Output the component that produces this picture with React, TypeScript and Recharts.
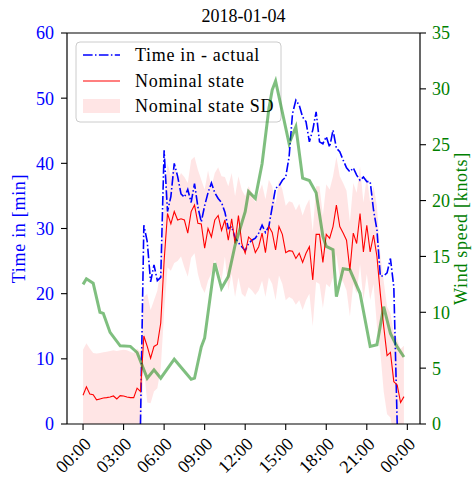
import React from 'react';
import { ComposedChart, Line, Area, XAxis, YAxis, ReferenceLine, Customized } from 'recharts';

// Samples are taken every 15 minutes across the day.
const STEP_HOURS = 0.25;

// Nominal state [min], one value per 15-minute slot (00:00 .. 23:45).
const nominalState = [
  4.4, 5.7, 4.6, 4.5, 3.7, 3.85, 4.0, 4.05, 4.15, 4.3, 3.85, 4.35, 4.3, 4.15, 4.05, 4.05,
  5.5, 5.0, 13.5, 11.9, 10.1, 11.9, 12.2, 15.5, 25.0, 32.3, 30.7, 32.6, 31.3, 31.5, 31.3, 29.3,
  32.6, 33.6, 30.8, 30.7, 27.0, 30.0, 28.7, 31.3, 32.0, 29.7, 31.3, 28.2, 31.5, 27.7, 32.0, 27.7,
  26.2, 28.7, 28.2, 26.3, 27.2, 29.3, 26.3, 30.3, 29.4, 26.7, 30.3, 29.1, 26.3, 26.6, 26.5, 25.4,
  26.2, 24.8, 26.2, 27.2, 22.1, 29.1, 29.1, 24.8, 29.1, 28.5, 30.3, 33.6, 30.3, 29.3, 28.2, 23.6,
  29.3, 27.7, 32.3, 26.4, 30.5, 26.4, 29.0, 25.7, 20.0, 15.0, 10.5, 11.0, 6.5, 6.0, 3.3, 4.2,
];

// Lower / upper edge of the nominal state +/- one standard deviation [min].
const sdLower = [
  -3, -2, -3, -3, -3.5, -3.3, -3.2, -3.1, -3, -2.8, -3.4, -2.8, -3, -3, -3, -3,
  -1, -1.5, 8.5, 3.3, 3.2, 5.0, 5.5, 8.5, 17.0, 24.0, 23.5, 24.7, 25.0, 25.7, 24.0, 22.6,
  25.5, 26.2, 23.0, 21.1, 20.1, 22.0, 23.1, 25.2, 24.0, 22.0, 25.7, 20.5, 23.0, 19.5, 22.5, 20.0,
  19.5, 21.0, 20.5, 19.8, 20.5, 22.0, 19.5, 22.5, 21.5, 19.0, 22.8, 21.5, 19.0, 19.5, 19.2, 18.3,
  19.0, 17.5, 19.0, 20.0, 15.0, 21.8, 21.5, 17.8, 21.5, 21.0, 22.5, 26.0, 22.5, 21.8, 20.5, 16.5,
  21.5, 20.0, 24.5, 19.0, 23.0, 19.0, 21.5, 15.0, 11.0, 5.0, 1.5, 1.0, -2.0, -2.0, -5.0, -3.5,
];
const sdUpper = [
  11.4, 12.4, 11.6, 10.9, 10.8, 10.9, 11.0, 11.1, 11.2, 11.3, 11.2, 11.3, 11.4, 11.3, 11.1, 10.9,
  11.6, 11.0, 19.5, 20.0, 17.5, 19.0, 20.5, 24.0, 34.0, 40.0, 38.0, 39.9, 37.4, 38.5, 37.9, 37.0,
  40.5, 41.0, 39.0, 37.5, 36.0, 38.9, 36.4, 38.5, 39.4, 38.0, 37.9, 36.5, 38.5, 35.0, 38.0, 35.9,
  35.0, 36.5, 35.5, 34.0, 35.5, 36.8, 34.5, 37.5, 36.5, 33.8, 37.5, 36.0, 33.5, 34.2, 34.0, 32.8,
  33.8, 32.0, 33.5, 34.5, 29.5, 36.5, 36.5, 32.0, 36.8, 36.0, 38.0, 41.0, 38.0, 37.0, 35.8, 31.0,
  37.0, 35.5, 39.5, 34.0, 38.0, 34.0, 36.5, 33.5, 26.0, 22.0, 18.0, 17.0, 14.0, 13.0, 11.5, 12.0,
];

// Measured time in [min]; no measurements before 04:15 or after 23:15.
const actualTimeIn: (number | null)[] = [
  null, null, null, null, null, null, null, null, null, null, null, null, null, null, null, null,
  null, 0, 30.5, 28.0, 21.8, 24.4, 22.0, 22.5, 42.0, 32.6, 34.9, 40.0, 38.0, 35.3, 34.8, 36.0,
  34.0, 36.9, 33.3, 31.0, 33.5, 35.5, 37.0, 35.5, 34.6, 34.0, 32.5, 30.0, 30.3, 28.6, 27.8, 27.2,
  26.6, 27.7, 28.2, 28.5, 29.3, 30.5, 29.4, 30.3, 33.3, 36.2, 36.5, 37.4, 37.9, 41.0, 47.6, 49.7,
  48.9, 47.1, 46.4, 43.3, 45.1, 47.9, 43.3, 43.0, 44.1, 42.5, 45.1, 42.3, 41.8, 40.5, 39.3, 38.7,
  39.3, 38.2, 37.4, 37.9, 37.2, 37.2, 32.8, 29.8, 22.7, 22.7, 23.2, 25.4, 21.0, 0, null, null,
];

// Wind speed [knots] as [hour, knots] samples.
const windSamples: [number, number][] = [
  [0, 12.5], [0.25, 13.0], [0.75, 12.6], [1.25, 10.0], [1.5, 9.9], [2.0, 8.2], [2.75, 7.0],
  [3.5, 6.95], [4.0, 6.4], [4.75, 4.1], [5.25, 4.85], [5.75, 4.1], [6.75, 5.8], [8.0, 4.0],
  [8.25, 4.1], [8.75, 6.9], [9.0, 7.7], [9.75, 14.4], [10.25, 12.15], [10.75, 13.2], [11.25, 16.0],
  [12.0, 19.0], [12.25, 20.8], [12.75, 20.2], [13.25, 23.3], [13.75, 28.2], [14.0, 29.9],
  [14.25, 30.7], [15.25, 25.1], [15.75, 26.6], [16.25, 22.0], [16.75, 21.8], [17.25, 20.7],
  [17.75, 16.8], [18.0, 15.9], [18.5, 15.6], [18.75, 11.4], [19.25, 13.9], [19.75, 13.8],
  [20.5, 11.7], [21.25, 6.94], [21.75, 7.1], [22.25, 10.5], [22.75, 8.1], [23.25, 6.9], [23.75, 6.0],
];

const hourTicks = [0, 3, 6, 9, 12, 15, 18, 21, 24];
const timeInTicks = [0, 10, 20, 30, 40, 50, 60];
const windTicks = [0, 5, 10, 15, 20, 25, 30, 35];

const windByIndex = new Map<number, number>(
  windSamples.map(([h, k]) => [Math.round(h / STEP_HOURS), k])
);

const rows = nominalState.map((v, i) => ({
  hour: i * STEP_HOURS,
  nominal: v,
  actual: actualTimeIn[i],
  sd: [sdLower[i], sdUpper[i]],
  wind: windByIndex.has(i) ? windByIndex.get(i) : null,
}));

const FONT = '"Liberation Serif", "DejaVu Serif", serif';
const BLUE = '#0000ff';
const GREEN = '#008000';

const fmtHour = (h: number) => `${String(h % 24).padStart(2, '0')}:00`;

const HourTick = (props: any) => {
  const { x, y, payload } = props;
  const tx = x + 9;
  const ty = y + 13;
  return (
    <text
      x={tx}
      y={ty}
      transform={`rotate(-45, ${tx}, ${ty})`}
      textAnchor="end"
      fontFamily={FONT}
      fontSize={18}
      fill="#000"
    >
      {fmtHour(payload.value)}
    </text>
  );
};

const textStyle = { fontFamily: FONT, fontSize: 18, letterSpacing: 0.7 };

const LegendBox = () => (
  <g>
    <rect x={76} y={42} width={205} height={80} rx={4} ry={4} fill="#ffffff" fillOpacity={0.8} stroke="#cccccc" strokeWidth={1} />
    <line x1={83} x2={120} y1={55} y2={55} stroke={BLUE} strokeWidth={1.6} strokeDasharray="9.6 2.4 1.5 2.4" />
    <text x={135} y={61} style={textStyle} fill="#000">Time in - actual</text>
    <line x1={83} x2={120} y1={81} y2={81} stroke="#ff0000" strokeWidth={1.1} />
    <text x={135} y={87} style={textStyle} fill="#000">Nominal state</text>
    <rect x={83} y={99} width={37} height={14} fill="#ff0000" fillOpacity={0.1} />
    <text x={135} y={112} style={textStyle} fill="#000">Nominal state SD</text>
  </g>
);

const Titles = () => (
  <g>
    <text x={243.5} y={22} textAnchor="middle" fontFamily={FONT} fontSize={18} fill="#000">2018-01-04</text>
    <text x={25} y={228.5} textAnchor="middle" transform="rotate(-90, 25, 228.5)" style={textStyle} fill={BLUE}>Time in [min]</text>
    <text x={467} y={228.5} textAnchor="middle" transform="rotate(-90, 467, 228.5)" style={textStyle} fill={GREEN}>Wind speed [knots]</text>
  </g>
);

export default function App() {
  return (
    <div style={{ position: 'absolute', left: 0, top: 0, width: 473, height: 479, background: '#fff' }}>
      <ComposedChart width={473} height={479} data={rows} margin={{ top: 33, right: 0, bottom: 0, left: 0 }}>
        <XAxis
          dataKey="hour"
          type="number"
          domain={[-1.1875, 24.9375]}
          allowDataOverflow
          ticks={hourTicks}
          tick={<HourTick />}
          tickSize={6}
          tickMargin={2}
          height={55}
          interval={0}
          stroke="#000"
          tickLine={{ stroke: '#000', strokeWidth: 1.1 }}
          axisLine={{ stroke: '#000', strokeWidth: 1.2 }}
        />
        <YAxis
          yAxisId="left"
          orientation="left"
          domain={[0, 60]}
          allowDataOverflow
          ticks={timeInTicks}
          interval={0}
          width={67}
          tickSize={6}
          tickMargin={7}
          tick={{ fill: BLUE, fontSize: 18, fontFamily: FONT }}
          tickLine={{ stroke: '#000', strokeWidth: 1.1 }}
          axisLine={{ stroke: '#000', strokeWidth: 1.2 }}
        />
        <YAxis
          yAxisId="right"
          orientation="right"
          domain={[0, 35]}
          allowDataOverflow
          ticks={windTicks}
          interval={0}
          width={53}
          tickSize={6}
          tickMargin={6}
          tick={{ fill: GREEN, fontSize: 18, fontFamily: FONT, textAnchor: 'start' }}
          tickLine={{ stroke: '#000', strokeWidth: 1.1 }}
          axisLine={{ stroke: '#000', strokeWidth: 1.2 }}
        />
        <ReferenceLine yAxisId="left" y={60} stroke="#000" strokeWidth={1.2} ifOverflow="visible" />
        <Area
          yAxisId="left"
          type="linear"
          dataKey="sd"
          stroke="none"
          fill="#ff0000"
          fillOpacity={0.1}
          isAnimationActive={false}
          activeDot={false}
        />
        <Line
          yAxisId="left"
          type="linear"
          dataKey="actual"
          stroke={BLUE}
          strokeWidth={1.6}
          strokeDasharray="9.6 2.4 1.5 2.4"
          dot={false}
          activeDot={false}
          isAnimationActive={false}
        />
        <Line
          yAxisId="left"
          type="linear"
          dataKey="nominal"
          stroke="#ff0000"
          strokeWidth={1.1}
          dot={false}
          activeDot={false}
          isAnimationActive={false}
        />
        <Customized component={LegendBox} />
        <Line
          yAxisId="right"
          type="linear"
          dataKey="wind"
          stroke={GREEN}
          strokeOpacity={0.5}
          strokeWidth={3}
          connectNulls
          dot={false}
          activeDot={false}
          isAnimationActive={false}
        />
        <Customized component={Titles} />
      </ComposedChart>
    </div>
  );
}
